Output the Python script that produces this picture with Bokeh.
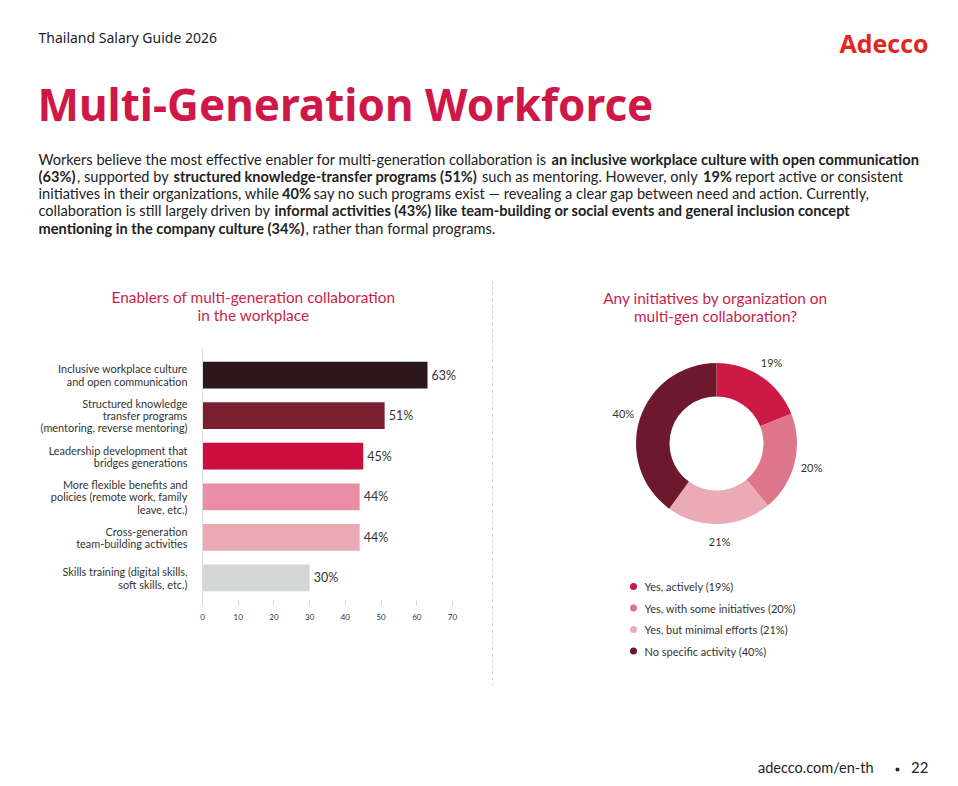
import numpy as np
from bokeh.plotting import figure
from bokeh.layouts import column, row
from bokeh.models import ColumnDataSource, Range1d, FactorRange, FixedTicker, Span
from bokeh.core.properties import value
from bokeh.embed import file_html
from bokeh.resources import INLINE

# ---------------- data ----------------
enablers = [
    "Inclusive workplace culture\nand open communication",
    "Structured knowledge\ntransfer programs\n(mentoring, reverse mentoring)",
    "Leadership development that\nbridges generations",
    "More flexible benefits and\npolicies (remote work, family\nleave, etc.)",
    "Cross-generation\nteam-building activities",
    "Skills training (digital skills,\nsoft skills, etc.)",
]
enabler_values = [63, 51, 45, 44, 44, 30]
enabler_colors = ["#2b161c", "#7a1f2f", "#cc0d3d", "#ea8ea6", "#eaa9b3", "#d5d7d6"]
x_ticks = [0, 10, 20, 30, 40, 50, 60, 70]

initiative_labels = ["Yes, actively", "Yes, with some initiatives", "Yes, but minimal efforts", "No specific activity"]
initiative_values = [19, 20, 21, 40]
initiative_colors = ["#cd1a45", "#dd758b", "#ebabb5", "#6e182e"]

FONT = "Lato"
CRIMSON = "#c81f4b"
DARK = "#222222"

# paragraph segments: (line, x start, text, bold)
segments = [
    (0, 38, "Workers believe the most effective enabler for multi-generation collaboration is", False),
    (0, 551, "an inclusive workplace culture with open communication", True),
    (1, 38, "(63%)", True),
    (1, 76.5, ", supported by", False),
    (1, 173, "structured knowledge-transfer programs (51%)", True),
    (1, 481.5, "such as mentoring. However, only", False),
    (1, 702.5, "19%", True),
    (1, 734.5, "report active or consistent", False),
    (2, 38, "initiatives in their organizations, while", False),
    (2, 281.5, "40%", True),
    (2, 313, "say no such programs exist \u2014 revealing a clear gap between need and action. Currently,", False),
    (3, 38, "collaboration is still largely driven by", False),
    (3, 274, "informal activities (43%) like team-building or social events and general inclusion concept", True),
    (4, 38, "mentioning in the company culture (34%)", True),
    (4, 305, ", rather than formal programs.", False),
]
line_y = [158.8, 176.0, 193.2, 210.4, 227.6]


def blank(p):
    p.xgrid.visible = False
    p.ygrid.visible = False
    p.outline_line_color = None
    p.background_fill_color = "white"
    p.border_fill_color = "white"
    p.min_border = 0


# ---------------- header ----------------
W = 958
HEAD_H = 347
head = figure(width=W, height=HEAD_H, x_range=Range1d(0, W), y_range=Range1d(HEAD_H, 0),
              x_axis_type=None, y_axis_type=None, toolbar_location=None, output_backend="svg")
blank(head)

head.text(x=[38], y=[37], text=["Thailand Salary Guide 2026"], text_font=value("Noto Sans"),
          text_font_size="14px", text_color=DARK, text_baseline="middle")
head.text(x=[928], y=[42], text=["Adecco"], text_font=value("Open Sans"), text_font_style="bold",
          text_font_size="25px", text_color="#e3251f", text_baseline="middle", text_align="right")
head.text(x=[37], y=[103], text=["Multi-Generation Workforce"], text_font=value("Noto Sans"),
          text_font_style="bold", text_font_size="44px", text_color="#cf1848", text_baseline="middle")

seg_src = ColumnDataSource(dict(
    x=[s[1] for s in segments],
    y=[line_y[s[0]] for s in segments],
    text=[s[2] for s in segments],
    style=["bold" if s[3] else "normal" for s in segments],
))
head.text(x="x", y="y", text="text", source=seg_src, text_font=value(FONT), text_font_style="style",
          text_font_size="14.6px", text_color=DARK, text_baseline="middle")

head.text(x=[253], y=[305.5], text=["Enablers of multi-generation collaboration\nin the workplace"],
          text_font=value(FONT), text_font_size="15.4px", text_color=CRIMSON, text_align="center",
          text_baseline="middle", text_line_height=1.0)
head.text(x=[715], y=[306], text=["Any initiatives by organization on\nmulti-gen collaboration?"],
          text_font=value(FONT), text_font_size="15.4px", text_color=CRIMSON, text_align="center",
          text_baseline="middle", text_line_height=1.0)
head.segment(x0=[492], y0=[280], x1=[492], y1=[HEAD_H], line_color="#cfcfcf", line_dash="3 3", line_width=1)

# ---------------- bar chart ----------------
BAR_W = 490
BODY_H = 353
BOTTOM = 95
AXIS0 = 202          # page x of value 0
AXIS_LEN = 250       # px for 0..70
upp = (x_ticks[-1] - x_ticks[0]) / AXIS_LEN
bar = figure(width=BAR_W, height=BODY_H, x_range=Range1d(-AXIS0 * upp, (BAR_W - AXIS0) * upp),
             y_range=FactorRange(factors=list(reversed(enablers)), range_padding=0.06),
             y_axis_type=None, toolbar_location=None, output_backend="svg")
blank(bar)
bar.min_border_bottom = BOTTOM

bsrc = ColumnDataSource(dict(cat=enablers, val=enabler_values, color=enabler_colors,
                             lab=[f"{v}%" for v in enabler_values], zero=[0] * len(enablers)))
bar.hbar(y="cat", right="val", left=0, height=0.66, fill_color="color", line_color=None, source=bsrc)
bar.text(x="val", y="cat", text="lab", source=bsrc, x_offset=4, text_font=value(FONT),
         text_font_size="12.5px", text_color="#333333", text_baseline="middle")
bar.text(x="zero", y="cat", text="cat", source=bsrc, x_offset=-15, text_font=value(FONT),
         text_font_size="10.9px", text_color="#333333", text_baseline="middle", text_align="right",
         text_line_height=0.94)
bar.add_layout(Span(location=0, dimension="height", line_color="#dddddd", line_width=1))

xa = bar.xaxis[0]
xa.ticker = FixedTicker(ticks=x_ticks)
xa.axis_line_color = None
xa.major_tick_in = 5
xa.major_tick_out = 0
xa.major_tick_line_color = "#d4d4d4"
xa.minor_tick_line_color = None
xa.major_label_text_font = FONT
xa.major_label_text_font_size = "8px"
xa.major_label_text_color = "#333333"
xa.major_label_standoff = 8

# ---------------- donut ----------------
DON_W = W - BAR_W
# local coords: x = page_x - BAR_W, y = 700 - page_y
don = figure(width=DON_W, height=BODY_H, x_range=Range1d(0, DON_W), y_range=Range1d(0, BODY_H),
             x_axis_type=None, y_axis_type=None, toolbar_location=None, output_backend="svg")
blank(don)

cx, cy = 716 - BAR_W, 700 - 443
fr = np.array(initiative_values, dtype=float) / sum(initiative_values)
cum = np.concatenate([[0], np.cumsum(fr)])
start = np.pi / 2 - 2 * np.pi * cum[:-1]
end = np.pi / 2 - 2 * np.pi * cum[1:]
mid = (start + end) / 2
dsrc = ColumnDataSource(dict(start=start, end=end, color=initiative_colors,
                             lx=cx + 98 * np.cos(mid), ly=cy + 98 * np.sin(mid),
                             lab=[f"{v}%" for v in initiative_values]))
don.annular_wedge(x=cx, y=cy, inner_radius=47, outer_radius=80.5, start_angle="start", end_angle="end",
                  direction="clock", fill_color="color", line_color=None, source=dsrc)
don.text(x="lx", y="ly", text="lab", source=dsrc, text_font=value(FONT), text_font_size="11px",
         text_color="#333333", text_align="center", text_baseline="middle")

leg_y = [700 - 586, 700 - 607.5, 700 - 629, 700 - 650.5]
lsrc = ColumnDataSource(dict(x=[633 - BAR_W] * 4, tx=[644 - BAR_W] * 4, y=leg_y, color=initiative_colors,
                             text=[f"{n} ({v}%)" for n, v in zip(initiative_labels, initiative_values)]))
don.scatter(x="x", y="y", size=7, fill_color="color", line_color=None, source=lsrc)
don.text(x="tx", y="y", text="text", source=lsrc, text_font=value(FONT), text_font_size="11px",
         text_color="#333333", text_baseline="middle")
don.segment(x0=[2], y0=[BODY_H], x1=[2], y1=[700 - 685], line_color="#cfcfcf", line_dash="3 3",
            line_width=1)

# ---------------- footer ----------------
FOOT_H = 786 - HEAD_H - BODY_H
foot = figure(width=W, height=FOOT_H, x_range=Range1d(0, W), y_range=Range1d(FOOT_H, 0),
              x_axis_type=None, y_axis_type=None, toolbar_location=None, output_backend="svg")
blank(foot)
foot.text(x=[873], y=[767 - 700], text=["adecco.com/en-th"], text_font=value(FONT), text_font_size="14.5px",
          text_color=DARK, text_align="right", text_baseline="middle")
foot.scatter(x=[897], y=[769 - 700], size=4, fill_color=DARK, line_color=None)
foot.text(x=[928], y=[767 - 700], text=["22"], text_font=value(FONT), text_font_size="15px",
          text_color=DARK, text_align="right", text_baseline="middle")

layout = column(head, row(bar, column(don, spacing=0), spacing=0), foot, spacing=0)
open("out.html", "w").write(file_html(layout, INLINE))
